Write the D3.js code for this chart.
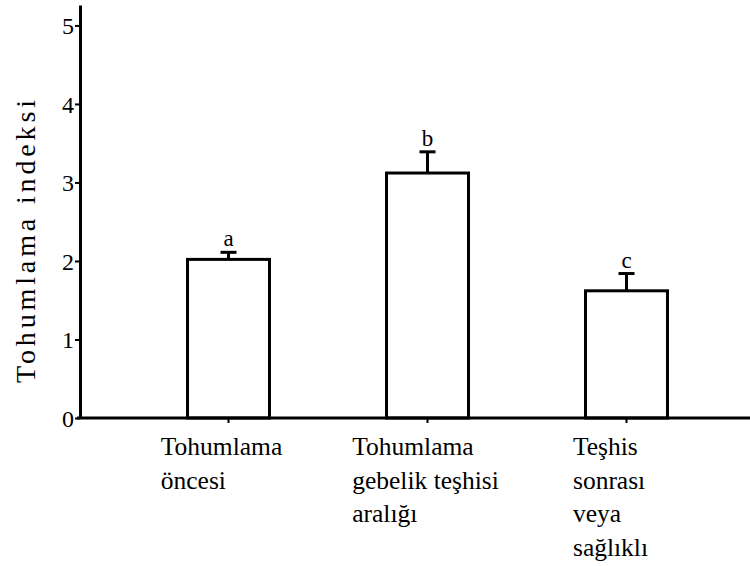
<!DOCTYPE html>
<html>
<head>
<meta charset="utf-8">
<script src="https://cdn.jsdelivr.net/npm/d3@7/dist/d3.min.js"></script>
<style>
  html, body { margin: 0; padding: 0; background: #fff; }
  svg { display: block; }
  .serif { font-family: "Liberation Serif", "Times New Roman", Times, serif; }
</style>
</head>
<body>
<svg id="chart" width="750" height="566"></svg>
<script>
// Groups, mean index per group, standard error and significance letters
const categories = ["Tohumlama öncesi", "Tohumlama gebelik teşhisi aralığı", "Teşhis sonrası veya sağlıklı"];
const categoryLines = [
  ["Tohumlama", "öncesi"],
  ["Tohumlama", "gebelik teşhisi", "aralığı"],
  ["Teşhis", "sonrası", "veya", "sağlıklı"]
];
const means = [2.02, 3.12, 1.62];
const errors = [0.09, 0.27, 0.22];
const letters = ["a", "b", "c"];
const yTicks = [0, 1, 2, 3, 4, 5];
const yTitle = "Tohumlama indeksi";

// Layout
const svg = d3.select("#chart");
const x0 = 80, yBottom = 418, yTop = 5;
const labelShift = [-7, -2, -16];

const y = d3.scaleLinear().domain([0, 5.26]).range([yBottom, yTop]);
const x = d3.scaleBand()
  .domain(categories)
  .range([129, 726])
  .paddingInner(0.588)
  .paddingOuter(0.294);

// Bars
svg.append("g").selectAll("rect")
  .data(categories)
  .join("rect")
  .attr("x", d => x(d))
  .attr("y", (d, i) => y(means[i]))
  .attr("width", x.bandwidth())
  .attr("height", (d, i) => y(0) - y(means[i]))
  .attr("fill", "#fff")
  .attr("stroke", "#000")
  .attr("stroke-width", 3);

// Error bars (upper half only)
const eb = svg.append("g").attr("stroke", "#000").attr("stroke-width", 3);
categories.forEach((c, i) => {
  const cx = x(c) + x.bandwidth() / 2;
  eb.append("line")
    .attr("x1", cx).attr("x2", cx)
    .attr("y1", y(means[i])).attr("y2", y(means[i] + errors[i]));
  eb.append("line")
    .attr("x1", cx - 8).attr("x2", cx + 8)
    .attr("y1", y(means[i] + errors[i])).attr("y2", y(means[i] + errors[i]));
});

// Significance letters
svg.append("g").selectAll("text")
  .data(categories)
  .join("text")
  .attr("class", "serif")
  .attr("x", d => x(d) + x.bandwidth() / 2)
  .attr("y", (d, i) => y(means[i] + errors[i]) - 6)
  .attr("text-anchor", "middle")
  .style("font-size", "23px")
  .text((d, i) => letters[i]);

// Y axis
const yAxis = svg.append("g")
  .attr("transform", `translate(${x0},0)`)
  .call(d3.axisLeft(y).tickValues(yTicks).tickFormat(d3.format("d")).tickSize(5).tickSizeOuter(0));
yAxis.select(".domain").attr("stroke-width", 3);
yAxis.selectAll(".tick line").attr("stroke-width", 2);
yAxis.selectAll(".tick text")
  .attr("class", "serif")
  .style("font-size", "24px")
  .attr("fill", "#000")
  .attr("x", -6)
  .attr("dy", "0.35em");

// X axis
const xAxis = svg.append("g")
  .attr("transform", `translate(0,${yBottom})`)
  .call(d3.axisBottom(x).tickSize(5).tickSizeOuter(0).tickFormat(""));
xAxis.select(".domain").attr("d", `M${x0 - 3},0H750`).attr("stroke-width", 3);
xAxis.selectAll(".tick line").attr("stroke-width", 2);

// Multi-line category labels: one text element per line, left-aligned blocks under each tick
const labels = svg.append("g");
categories.forEach((c, i) => {
  const block = labels.append("g");
  categoryLines[i].forEach((line, j) => {
    block.append("text")
      .attr("class", "serif")
      .style("font-size", "25.5px")
      .attr("fill", "#000")
      .attr("x", 0)
      .attr("y", 455 + j * 33.5)
      .text(line);
  });
  const w = block.node().getBBox().width;
  const left = x(c) + x.bandwidth() / 2 - w / 2 + labelShift[i];
  block.attr("transform", `translate(${left},0)`);
});

// Y axis title
svg.append("text")
  .attr("class", "serif")
  .attr("transform", `translate(35,${(y(0) + y(5.26)) / 2 + 30}) rotate(-90)`)
  .attr("text-anchor", "middle")
  .style("font-size", "28px")
  .attr("textLength", 283)
  .attr("lengthAdjust", "spacing")
  .attr("fill", "#000")
  .text(yTitle);
</script>
</body>
</html>
